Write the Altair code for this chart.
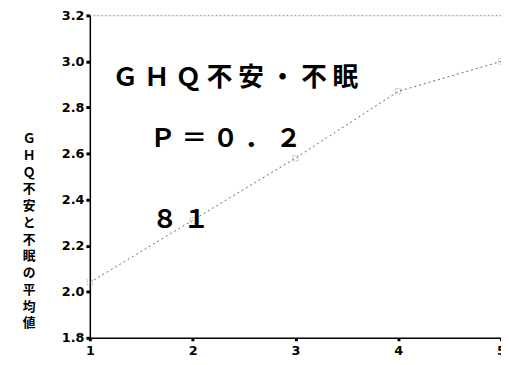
import altair as alt
import pandas as pd

# data
x_vals = [1, 2, 3, 4, 5]
y_vals = [2.04, 2.31, 2.58, 2.87, 3.00]

y_title_chars = list("ＧＨＱ不安と不眠の平均値")
annot_lines = ["Ｇ Ｈ Ｑ 不 安 ・ 不 眠", "Ｐ ＝ ０ ． ２", "８ １"]

df = pd.DataFrame({"x": x_vals, "y": y_vals})

xs = alt.Scale(domain=[1, 5], nice=False, zero=False)
ys = alt.Scale(domain=[1.8, 3.2], nice=False, zero=False)

base = alt.Chart(df)

line = base.mark_line(color="#666666", strokeWidth=1, strokeDash=[2, 3]).encode(
    x=alt.X("x:Q", scale=xs,
            axis=alt.Axis(values=[1, 2, 3, 4, 5], format="d", title=None,
                          labelFont="DejaVu Sans", labelFontWeight="bold",
                          labelFontSize=13, labelColor="black", labelPadding=4,
                          tickSize=3, tickWidth=3, tickColor="black",
                          domainColor="black", domainWidth=1.5, grid=False,
                          labelFlush=False)),
    y=alt.Y("y:Q", scale=ys,
            axis=alt.Axis(values=[1.8, 2.0, 2.2, 2.4, 2.6, 2.8, 3.0, 3.2], format=".1f",
                          title=y_title_chars, titleAngle=0, titleAlign="center",
                          titleBaseline="top", titleX=-62, titleY=119,
                          titleFont="Noto Sans CJK JP", titleFontSize=13,
                          titleFontWeight="bold", titleLineHeight=17, titleColor="black",
                          labelFont="DejaVu Sans", labelFontWeight="bold",
                          labelFontSize=13, labelColor="black", labelPadding=2,
                          tickSize=4, tickWidth=3, tickColor="black",
                          domainColor="black", domainWidth=1.5, grid=False,
                          labelFlush=False)),
)

points = base.mark_point(shape="square", size=30, filled=False, color="#888888",
                         strokeWidth=1, strokeDash=[1, 1]).encode(
    x=alt.X("x:Q", scale=xs), y=alt.Y("y:Q", scale=ys))

top_rule = alt.Chart(pd.DataFrame({"y": [3.2]})).mark_rule(
    color="#888888", strokeDash=[1, 3], strokeWidth=1).encode(
    y=alt.Y("y:Q", scale=ys))

def annot(text, x, y):
    return alt.Chart(pd.DataFrame({"t": [text]})).mark_text(
        font="Noto Sans CJK JP", fontSize=26, fontWeight="bold",
        align="left", baseline="middle", color="black"
    ).encode(text="t:N", x=alt.value(x), y=alt.value(y))

t1 = annot(annot_lines[0], 23, 64)
t2 = annot(annot_lines[1], 61, 126)
t3 = annot(annot_lines[2], 63, 208)

chart = alt.layer(top_rule, line, points, t1, t2, t3).properties(
    width=417, height=327,
    autosize=alt.AutoSizeParams(type="none"),
    padding={"left": 83, "top": 5, "right": 0, "bottom": 17},
).configure_view(stroke=None).configure(background="white")

chart.save("out.html", embed_options={"renderer": "svg", "actions": False})
